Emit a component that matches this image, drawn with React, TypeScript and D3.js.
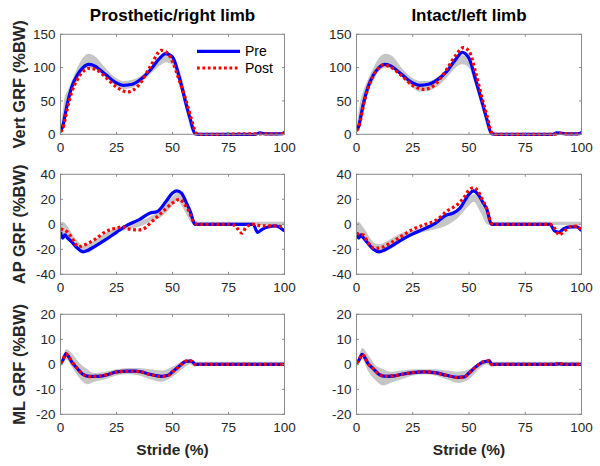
import React from "react";
import * as d3 from "d3";

// ---------- DATA ----------
const colTitles = ["Prosthetic/right limb", "Intact/left limb"];
const rowLabels = ["Vert GRF (%BW)", "AP GRF (%BW)", "ML GRF (%BW)"];
const rowDomains: [number, number][] = [[0, 150], [-40, 40], [-20, 20]];
const rowTicks = [[0, 50, 100, 150], [-40, -20, 0, 20, 40], [-20, -10, 0, 10, 20]];
const xTicks = [0, 25, 50, 75, 100];
const xLabel = "Stride (%)";
const legendLabels = ["Pre", "Post"];

// Prosthetic vertical
const pVertPreX = [0, 1, 2, 3, 5, 7.5, 10, 12.5, 15, 20, 25, 28, 32, 36, 40, 44, 47, 50, 53, 56, 58, 60, 62, 70, 80, 87, 89, 91, 95, 99, 100];
const pVertPreY = [5, 12, 28, 45, 71, 89, 100, 105, 103, 90, 77, 73.5, 75, 83, 96, 113, 121, 116, 86, 46, 22, 1, 0, 0, 0, 0, 2, 1, 0.5, 1, 3];
const pVertPostX = [0, 1, 2, 3, 5, 7.5, 10, 13, 16, 20, 25, 30, 35, 40, 45, 48, 50, 53, 56, 58, 60, 61, 70, 80, 90, 100];
const pVertPostY = [4, 8, 22, 38, 63, 82, 94, 99, 97, 86, 71, 63.5, 74, 101, 126, 121, 109, 81, 51, 28, 6, 0, 0, 0.5, 0.5, 1];
const pVertBandX = [0, 1, 2, 3, 5, 7.5, 10, 12.5, 15, 20, 25, 28, 32, 36, 40, 44, 47, 50, 53, 56, 58, 60, 62, 100];
const pVertBandHi = [8, 35, 58, 64, 80, 100, 115, 121, 118, 100, 84, 80, 82, 88, 100, 115, 122, 118, 98, 60, 30, 5, 1, 1];
const pVertBandLo = [3, 8, 20, 35, 62, 80, 95, 100, 98, 86, 72, 68, 70, 78, 90, 102, 108, 104, 75, 35, 10, 0, 0, 0];

// Intact vertical
const iVertPreX = [0, 1, 2, 3, 5, 7.5, 10, 12.5, 15, 20, 25, 28, 32, 36, 40, 44, 47, 50, 53, 56, 58, 60, 62, 70, 80, 87, 89, 91, 95, 99, 100];
const iVertPreY = [6, 12, 28, 45, 70, 89, 100, 105, 103, 90, 77, 73.5, 75, 82, 94, 112, 123, 114, 81, 46, 22, 1, 0, 0, 0, 0, 2, 1.5, 0.5, 1, 3];
const iVertPostX = [0, 1, 2, 3, 5, 7.5, 10, 12, 15, 20, 25, 30, 35, 40, 44, 47.5, 50, 53, 56, 58, 60, 61, 70, 80, 88, 90, 92, 96, 100];
const iVertPostY = [6, 10, 25, 42, 68, 88, 100, 104, 101, 88, 73, 67.5, 75, 97, 118, 130, 125, 92, 52, 28, 3, 0, 0, 0, 0, 2, 1, 0.5, 1];
const iVertBandX = [0, 1, 2, 3, 5, 7.5, 10, 13, 16, 20, 25, 28, 32, 36, 40, 44, 47, 50, 53, 56, 58, 60, 62, 100];
const iVertBandHi = [8, 35, 55, 65, 82, 100, 115, 121, 117, 100, 84, 80, 80, 86, 97, 112, 119, 112, 92, 55, 28, 4, 1, 1];
const iVertBandLo = [3, 8, 20, 35, 62, 80, 95, 100, 98, 86, 70, 64, 65, 72, 85, 100, 105, 100, 70, 35, 10, 0, 0, 0];

// Prosthetic AP
const pApPreX = [0, 1, 2, 3, 5, 7.5, 10, 12.5, 15, 20, 25, 30, 35, 40, 43, 47, 50, 52, 54, 56, 58, 60, 62, 70, 80, 86, 88, 90, 93, 96, 98, 100];
const pApPreY = [-6, -11, -8.5, -10.7, -14, -19, -22, -20.5, -18, -12.5, -6.4, -0.5, 3.5, 9, 10, 18, 25, 26.7, 25, 18, 10, 0, 0, 0, 0, 0, -6.5, -4, -2, -1.3, -2.7, -5.3];
const pApPostX = [0, 1.5, 3, 5, 8, 10, 15, 20, 25, 28, 30, 35, 38, 40, 45, 50, 53, 55, 57, 60, 61, 70, 76, 78, 81, 83, 86, 90, 95, 100];
const pApPostY = [-3.7, -4.5, -6, -10.7, -18, -17, -12.5, -6, -3, -2, -3.7, -4.5, -2.7, 0.8, 9, 17, 20, 17, 11.5, 0.8, 0, 0, 0, -1.3, -7, -2, 0, -1.3, -1.3, -2];
const pApBandX = [0, 1, 2, 4, 6, 8, 10, 12, 15, 20, 25, 30, 35, 40, 45, 50, 52, 55, 58, 60, 62, 100];
const pApBandHi = [1, 2, 1, -4, -10, -14, -17, -16, -13, -7, -3, 0, 2, 6, 12, 22, 25, 22, 12, 3, 2, 2];
const pApBandLo = [-6, -8, -10, -14, -18, -21, -23, -23, -20, -12, -7, -4, -2, 2, 6, 15, 19, 12, 2, -1, -0.5, -0.5];

// Intact AP
const iApPreX = [0, 1, 2, 3, 5, 7.5, 10, 12.5, 15, 20, 25, 30, 35, 40, 43, 46, 50, 52, 54, 56, 58, 60, 62, 70, 80, 86, 88, 90, 92, 95, 98, 100];
const iApPreY = [-7, -11, -8.5, -10.7, -15, -20, -22, -20.5, -18, -12.5, -7.7, -3.7, 0.8, 7.5, 9, 13, 24, 26.7, 24, 18, 11.5, 0, 0, 0, 0, 0, -5.3, -6.4, -3.7, -2, -2, -5.3];
const iApPostX = [0, 2, 3, 5, 8, 10, 15, 20, 25, 30, 35, 38, 40, 42, 45, 48, 50, 52, 54, 56, 58, 60, 61, 70, 80, 86, 88, 90, 92, 95, 98, 100];
const iApPostY = [-7, -8.5, -8.5, -14.4, -19, -19, -15, -9.5, -4, -0.5, 3, 7, 10.5, 12.5, 16, 22, 27.5, 29.3, 26.7, 19.5, 12, 0.8, 0, 0, 0, 0, -3, -8.5, -6, -2, -1.5, -5.3];
const iApBandX = [0, 1, 2, 4, 6, 8, 10, 12, 15, 20, 25, 30, 35, 40, 45, 50, 52, 55, 58, 60, 62, 100];
const iApBandHi = [1, 2, 0, -5, -11, -15, -16, -15, -12, -7, -5, -2, 1, 6, 12, 22, 24, 20, 8, 2, 2, 2];
const iApBandLo = [-6, -8, -10, -15, -19, -22, -23, -22, -20, -14, -9, -6, -4, -1, 5, 15, 18, 10, 0, -1, -0.5, -0.5];

// Prosthetic ML
const pMlPreX = [0, 1, 2.5, 3.5, 5, 7.5, 10, 13, 17, 20, 25, 30, 33, 36, 40, 45, 48, 50, 53, 56, 58, 59, 60, 62, 100];
const pMlPreY = [0.3, 1.6, 4.3, 3.2, 1, -1.7, -4, -4.8, -4.8, -4.4, -3, -2.7, -2.7, -3, -4, -4.8, -4.4, -3, -0.8, 1.2, 1.3, 1, 0, 0, 0];
const pMlPostX = [0, 1, 2.5, 3.5, 5, 7.5, 10, 13, 17, 20, 25, 30, 33, 36, 40, 45, 48, 50, 53, 56, 58, 59, 60, 62, 100];
const pMlPostY = [0.5, 1.8, 4.2, 3.3, 1.2, -1.6, -4, -4.9, -4.8, -4.3, -3.1, -2.8, -2.8, -3.1, -4.1, -4.9, -4.5, -3.1, -0.9, 1.3, 1.4, 1, 0, 0, 0];
const pMlBandX = [0, 1, 2.5, 5, 8, 12, 15, 20, 25, 30, 35, 40, 45, 50, 55, 58, 60, 62, 100];
const pMlBandHi = [1, 3, 6, 4.5, 1, -2, -3.5, -3, -2, -1.5, -1.5, -2, -2.5, -1, 1.5, 2, 1, 1, 1];
const pMlBandLo = [-1, 0, 2, -1, -5, -8, -7, -6, -4.5, -4, -4.5, -6, -7, -5, -1.5, 0, -1, -0.5, -0.5];

// Intact ML
const iMlPreX = [0, 1, 2.5, 3.5, 5, 7.5, 10, 13, 17, 20, 25, 30, 35, 40, 45, 48, 50, 53, 56, 58, 59, 60, 62, 88, 90, 92, 100];
const iMlPreY = [0.5, 1.5, 4, 3, 0.5, -1.8, -4, -4.8, -4.6, -4, -3.3, -3, -3.3, -4.4, -5.2, -5, -3.5, -1, 0.8, 1.2, 1.5, 0, 0, 0, 0.2, 0, 0];
const iMlPostX = [0, 1, 2.5, 3.5, 5, 7.5, 10, 13, 17, 20, 25, 30, 35, 40, 45, 48, 50, 53, 56, 58, 59, 60, 62, 88, 90, 92, 100];
const iMlPostY = [0.6, 1.6, 4, 3.1, 0.6, -1.7, -4, -4.8, -4.6, -4.1, -3.3, -3, -3.4, -4.5, -5.3, -5, -3.6, -1, 0.9, 1.2, 1.4, 0, 0, 0, 0.4, 0, 0];
const iMlBandX = [0, 1, 2.5, 5, 8, 12, 15, 20, 25, 30, 35, 40, 45, 50, 55, 58, 60, 62, 100];
const iMlBandHi = [1, 3, 6.5, 4, 0, -2, -3, -2.5, -2, -2, -2, -2.5, -3, -2, 1, 2, 1, 1, 1];
const iMlBandLo = [-1, 0, 2, -2.5, -6, -8.5, -7.5, -6, -4.5, -4, -4.5, -6, -7.5, -6, -1.5, 0, -1, -0.5, -0.5];

// ---------- LAYOUT ----------
const W = 600, H = 466;
const colX = [60.5, 356.5];
const colW = [224, 225];
const rowY = [34.3, 174.3, 314.3];
const rowH = 100;
const BLUE = "#0000ff";
const RED = "#ff0000";
const BAND = "#c6c6c6";
const AXIS = "#8a8a8a";
const TEXT = "#262626";
const FONT = "'Liberation Sans', Arial, Helvetica, sans-serif";

type Series = { x: number[]; y: number[] };
type Panel = { pre: Series; post: Series; bx: number[]; hi: number[]; lo: number[] };

const panels: Panel[][] = [
  [
    { pre: { x: pVertPreX, y: pVertPreY }, post: { x: pVertPostX, y: pVertPostY }, bx: pVertBandX, hi: pVertBandHi, lo: pVertBandLo },
    { pre: { x: iVertPreX, y: iVertPreY }, post: { x: iVertPostX, y: iVertPostY }, bx: iVertBandX, hi: iVertBandHi, lo: iVertBandLo },
  ],
  [
    { pre: { x: pApPreX, y: pApPreY }, post: { x: pApPostX, y: pApPostY }, bx: pApBandX, hi: pApBandHi, lo: pApBandLo },
    { pre: { x: iApPreX, y: iApPreY }, post: { x: iApPostX, y: iApPostY }, bx: iApBandX, hi: iApBandHi, lo: iApBandLo },
  ],
  [
    { pre: { x: pMlPreX, y: pMlPreY }, post: { x: pMlPostX, y: pMlPostY }, bx: pMlBandX, hi: pMlBandHi, lo: pMlBandLo },
    { pre: { x: iMlPreX, y: iMlPreY }, post: { x: iMlPostX, y: iMlPostY }, bx: iMlBandX, hi: iMlBandHi, lo: iMlBandLo },
  ],
];

function PanelView({ r, c }: { r: number; c: number }) {
  const p = panels[r][c];
  const x0 = colX[c], y0 = rowY[r], w = colW[c], h = rowH;
  const xs = d3.scaleLinear().domain([0, 100]).range([x0, x0 + w]);
  const ys = d3.scaleLinear().domain(rowDomains[r]).range([y0 + h, y0]);
  const curve = d3.curveMonotoneX;
  const area = d3
    .area<number>()
    .x((_, i) => xs(p.bx[i]))
    .y0((_, i) => ys(p.lo[i]))
    .y1((_, i) => ys(p.hi[i]))
    .curve(curve)(p.bx);
  const mkLine = (s: Series) =>
    d3
      .line<number>()
      .x((_, i) => xs(s.x[i]))
      .y((_, i) => ys(s.y[i]))
      .curve(curve)(s.x) || "";
  const clipId = `clip-${r}-${c}`;
  const tl = 2.5;
  return (
    <g>
      <defs>
        <clipPath id={clipId}>
          <rect x={x0} y={y0 - 2} width={w} height={h + 4} />
        </clipPath>
      </defs>
      <g clipPath={`url(#${clipId})`}>
        <path d={area || ""} fill={BAND} stroke="none" />
        <path d={mkLine(p.pre)} fill="none" stroke={BLUE} strokeWidth={3.2} strokeLinejoin="round" />
        <path d={mkLine(p.post)} fill="none" stroke={RED} strokeWidth={3.2} strokeDasharray="2.8 2.6" />
      </g>
      <rect x={x0} y={y0} width={w} height={h} fill="none" stroke={AXIS} strokeWidth={1} />
      {xTicks.map((t) => (
        <g key={"xt" + t}>
          <line x1={xs(t)} x2={xs(t)} y1={y0 + h} y2={y0 + h - tl} stroke={AXIS} />
          <line x1={xs(t)} x2={xs(t)} y1={y0} y2={y0 + tl} stroke={AXIS} />
          <text x={xs(t)} y={y0 + h + 18} textAnchor="middle" fontSize={13.5} fill={TEXT} fontFamily={FONT}>
            {t}
          </text>
        </g>
      ))}
      {rowTicks[r].map((t) => (
        <g key={"yt" + t}>
          <line x1={x0} x2={x0 + tl} y1={ys(t)} y2={ys(t)} stroke={AXIS} />
          <line x1={x0 + w} x2={x0 + w - tl} y1={ys(t)} y2={ys(t)} stroke={AXIS} />
          <text x={x0 - 5} y={ys(t)} dy="0.36em" textAnchor="end" fontSize={13.5} fill={TEXT} fontFamily={FONT}>
            {t}
          </text>
        </g>
      ))}
    </g>
  );
}

export default function App() {
  return (
    <svg width={W} height={H} style={{ position: "absolute", left: 0, top: 0, background: "#fff" }}>
      <rect width={W} height={H} fill="#fff" />
      {colTitles.map((t, c) => (
        <text key={t} x={colX[c] + colW[c] / 2} y={21} textAnchor="middle" fontSize={17} fontWeight="bold" fill="#000" fontFamily={FONT}>
          {t}
        </text>
      ))}
      {rowLabels.map((t, r) => (
        <text
          key={t}
          transform={`translate(${25},${rowY[r] + rowH / 2}) rotate(-90)`}
          textAnchor="middle"
          fontSize={16.5}
          fontWeight="bold"
          fill={TEXT}
          fontFamily={FONT}
        >
          {t}
        </text>
      ))}
      {colX.map((x, c) => (
        <text key={"xl" + c} x={x + colW[c] / 2} y={455} textAnchor="middle" fontSize={15.5} fontWeight="bold" fill={TEXT} fontFamily={FONT}>
          {xLabel}
        </text>
      ))}
      {panels.map((row, r) => row.map((_, c) => <PanelView key={r + "-" + c} r={r} c={c} />))}
      {/* legend */}
      <g>
        <line x1={197} x2={240} y1={51.3} y2={51.3} stroke={BLUE} strokeWidth={3.2} />
        <line x1={197} x2={240} y1={68} y2={68} stroke={RED} strokeWidth={3.2} strokeDasharray="2.8 2.6" />
        <text x={245} y={51.3} dy="0.36em" fontSize={14} fill="#000" fontFamily={FONT}>
          {legendLabels[0]}
        </text>
        <text x={245} y={68} dy="0.36em" fontSize={14} fill="#000" fontFamily={FONT}>
          {legendLabels[1]}
        </text>
      </g>
    </svg>
  );
}
